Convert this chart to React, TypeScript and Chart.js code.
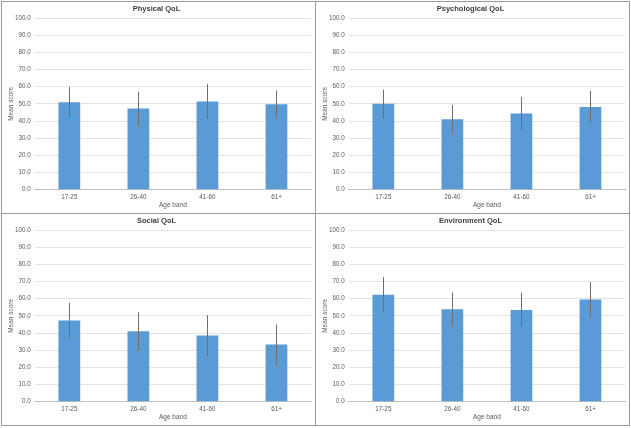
import React, { useEffect, useRef } from "react";
import { Chart, registerables } from "chart.js";

Chart.register(...registerables);

const ageBands = ["17-25", "26-40", "41-60", "61+"];
const yTicks = [0, 10, 20, 30, 40, 50, 60, 70, 80, 90, 100];

const physicalMean = [51.0, 47.3, 51.4, 49.8];
const physicalSd = [8.8, 9.8, 10.1, 7.9];
const psychologicalMean = [50.0, 41.1, 44.4, 48.1];
const psychologicalSd = [8.3, 8.2, 9.6, 9.5];
const socialMean = [47.3, 41.1, 38.6, 33.3];
const socialSd = [10.4, 11.0, 11.8, 11.7];
const environmentMean = [62.3, 53.9, 53.4, 59.5];
const environmentSd = [10.3, 9.7, 10.1, 10.1];

const panels = [
  { title: "Physical QoL", mean: physicalMean, sd: physicalSd, left: 1, top: 1 },
  { title: "Psychological QoL", mean: psychologicalMean, sd: psychologicalSd, left: 315, top: 1 },
  { title: "Social QoL", mean: socialMean, sd: socialSd, left: 1, top: 213 },
  { title: "Environment QoL", mean: environmentMean, sd: environmentSd, left: 315, top: 213 },
];

const FONT = "'Liberation Sans', Arial, sans-serif";

const errorBarPlugin = {
  id: "errorBars",
  afterDatasetsDraw(chart: any) {
    const sd: number[] = chart.options.plugins.errorBars?.sd || [];
    const meta = chart.getDatasetMeta(0);
    const yScale = chart.scales.y;
    const ctx = chart.ctx;
    ctx.save();
    ctx.strokeStyle = "#6e6e6e";
    ctx.lineWidth = 1;
    meta.data.forEach((el: any, i: number) => {
      const v = chart.data.datasets[0].data[i] as number;
      const s = sd[i] ?? 0;
      const x = Math.round(el.x) + 0.5;
      const y1 = yScale.getPixelForValue(v + s);
      const y2 = yScale.getPixelForValue(v - s);
      ctx.beginPath();
      ctx.moveTo(x, y1);
      ctx.lineTo(x, y2);
      ctx.stroke();
    });
    ctx.restore();
  },
};

function Panel({ title, mean, sd }: { title: string; mean: number[]; sd: number[] }) {
  const ref = useRef<HTMLCanvasElement>(null);
  useEffect(() => {
    if (!ref.current) return;
    const chart = new Chart(ref.current, {
      type: "bar",
      data: {
        labels: ageBands,
        datasets: [
          {
            data: mean,
            backgroundColor: "#5b9bd5",
            borderWidth: 0,
            categoryPercentage: 1,
            barPercentage: 0.315,
          },
        ],
      },
      plugins: [errorBarPlugin],
      options: {
        responsive: false,
        animation: false,
        layout: { padding: { left: 0, right: 4, top: 0, bottom: 0 } },
        plugins: {
          legend: { display: false },
          tooltip: { enabled: false },
          title: {
            display: true,
            text: title,
            color: "#404040",
            font: { family: FONT, size: 7.5, weight: "bold", lineHeight: 1.2 },
            padding: { top: 2.5, bottom: 4.5 },
          },
          errorBars: { sd },
        } as any,
        scales: {
          x: {
            grid: { display: false, drawTicks: false },
            border: { display: true, color: "#bfbfbf", width: 1 },
            ticks: {
              color: "#595959",
              font: { family: FONT, size: 6.3 },
              padding: 3.5,
              maxRotation: 0,
            },
            title: {
              display: true,
              text: "Age band",
              color: "#595959",
              font: { family: FONT, size: 6.5, lineHeight: 1.2 },
              padding: { top: 0, bottom: 4.1 },
            },
            afterFit(scale: any) {
              scale.height = 23.3;
            },
          },
          y: {
            min: 0,
            max: 100,
            afterBuildTicks(scale: any) {
              scale.ticks = yTicks.map((v) => ({ value: v }));
            },
            grid: {
              drawTicks: false,
              color: (c: any) => (c.tick && c.tick.value === 0 ? "#bfbfbf" : "#e3e3e3"),
              lineWidth: 1,
            },
            border: { display: false },
            ticks: {
              color: "#595959",
              font: { family: FONT, size: 6.3 },
              padding: 4,
              callback: (v: any) => Number(v).toFixed(1),
            },
            title: {
              display: true,
              text: "Mean score",
              color: "#595959",
              font: { family: FONT, size: 6.5, lineHeight: 1.2 },
              padding: { top: 5.1, bottom: 0 },
            },
            afterFit(scale: any) {
              scale.width = 32.8;
            },
          },
        },
      } as any,
    });
    return () => chart.destroy();
  }, [title, mean, sd]);
  return <canvas ref={ref} width={313} height={211} style={{ width: 313, height: 211, display: "block" }} />;
}

export default function App() {
  return (
    <div
      style={{
        position: "absolute",
        left: 0,
        top: 0,
        width: 631,
        height: 428,
        background: "#ffffff",
      }}
    >
      {panels.map((p) => (
        <div
          key={p.title}
          style={{
            position: "absolute",
            left: p.left,
            top: p.top,
            width: 315,
            height: 213,
            boxSizing: "border-box",
            border: "1px solid #9a9a9a",
            background: "#ffffff",
          }}
        >
          <Panel title={p.title} mean={p.mean} sd={p.sd} />
        </div>
      ))}
    </div>
  );
}
